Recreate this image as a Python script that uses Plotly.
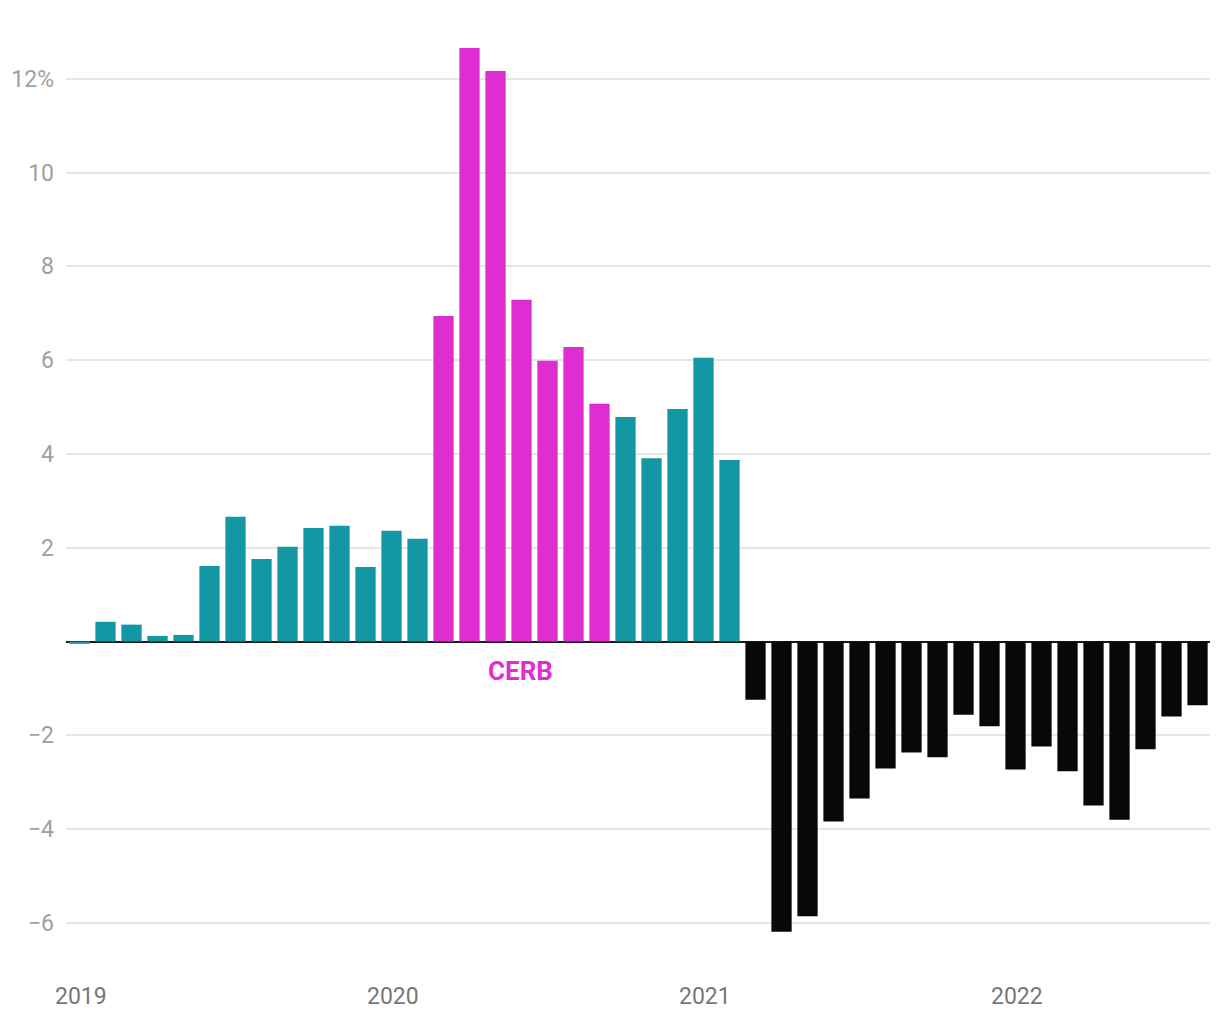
import plotly.graph_objects as go

months = ["2019-01","2019-02","2019-03","2019-04","2019-05","2019-06","2019-07","2019-08","2019-09","2019-10","2019-11","2019-12",
          "2020-01","2020-02","2020-03","2020-04","2020-05","2020-06","2020-07","2020-08","2020-09","2020-10","2020-11","2020-12",
          "2021-01","2021-02","2021-03","2021-04","2021-05","2021-06","2021-07","2021-08","2021-09","2021-10","2021-11","2021-12",
          "2022-01","2022-02","2022-03","2022-04","2022-05","2022-06","2022-07","2022-08"]
values = [-0.05, 0.42, 0.36, 0.12, 0.14, 1.61, 2.66, 1.76, 2.02, 2.42, 2.47, 1.59,
          2.36, 2.19, 6.94, 12.66, 12.17, 7.29, 5.99, 6.28, 5.07, 4.79, 3.91, 4.96,
          6.05, 3.87, -1.24, -6.19, -5.86, -3.84, -3.35, -2.71, -2.37, -2.47, -1.56, -1.81,
          -2.73, -2.24, -2.77, -3.50, -3.80, -2.30, -1.60, -1.36]
cerb_months = ["2020-03","2020-04","2020-05","2020-06","2020-07","2020-08","2020-09"]
year_ticks = ["2019", "2020", "2021", "2022"]
y_ticks = [-6, -4, -2, 2, 4, 6, 8, 10, 12]
y_tick_labels = ["\u22126", "\u22124", "\u22122", "2", "4", "6", "8", "10", "12%"]

TEAL = "#1397a4"
MAGENTA = "#e02dd2"
BLACK = "#080808"

x_idx = list(range(len(months)))
colors = []
for m, v in zip(months, values):
    if m in cerb_months:
        colors.append(MAGENTA)
    elif v < 0 and m >= "2021-01":
        colors.append(BLACK)
    else:
        colors.append(TEAL)

fig = go.Figure()
fig.add_trace(go.Bar(x=x_idx, y=values, marker=dict(color=colors, line=dict(width=0)),
                     width=0.78, hoverinfo="skip"))

fig.add_annotation(x=months.index("2020-06") - 0.05, y=-0.62, text="<b>CERB</b>", showarrow=False,
                   font=dict(family="Roboto", size=26, color=MAGENTA))

year_pos = [months.index(y + "-01") + 0.05 for y in year_ticks]

fig.update_layout(
    width=1220, height=1020,
    margin=dict(l=66, r=10, t=32, b=55),
    paper_bgcolor="white", plot_bgcolor="white",
    showlegend=False,
    font=dict(family="Roboto"),
    bargap=0.2,
    xaxis=dict(range=[-0.52, 43.48], tickmode="array", tickvals=year_pos, ticktext=year_ticks,
               showgrid=False, zeroline=False, showline=False, ticks="",
               tickfont=dict(family="Roboto", size=23, color="#777777"), ticklabelstandoff=15),
    yaxis=dict(range=[-6.9, 13.0], tickmode="array", tickvals=y_ticks, ticktext=y_tick_labels,
               showgrid=True, gridcolor="#e6e6e6", gridwidth=2,
               zeroline=True, zerolinecolor="#1a1a1a", zerolinewidth=2,
               showline=False, ticks="",
               tickfont=dict(family="Roboto", size=23, color="#a0a0a0"), ticklabelstandoff=11),
)

fig.write_html("out.html")
